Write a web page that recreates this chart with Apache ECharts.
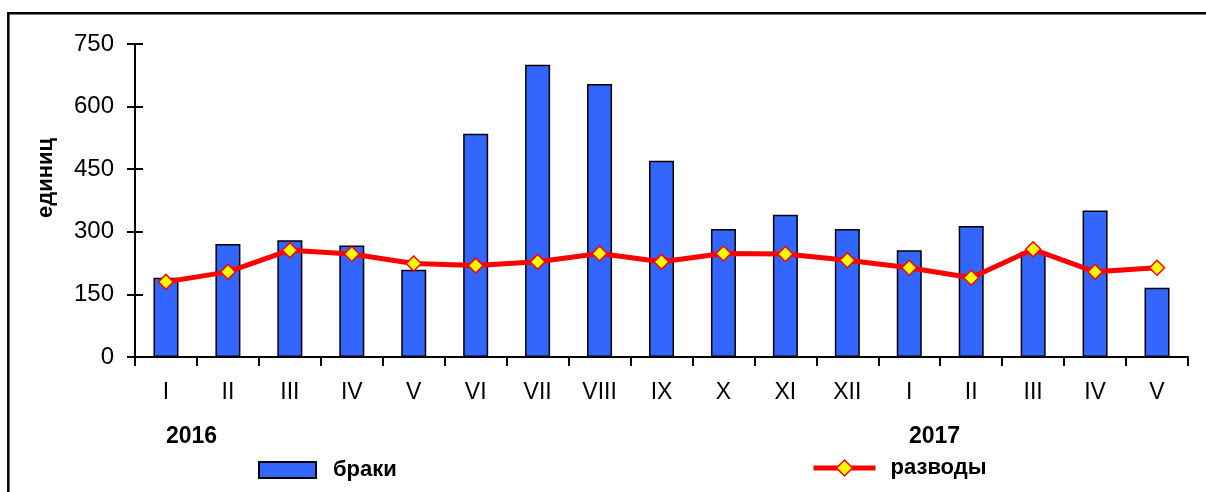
<!DOCTYPE html>
<html>
<head>
<meta charset="utf-8">
<script src="https://cdn.jsdelivr.net/npm/echarts@6/dist/echarts.min.js"></script>
<style>
html,body{margin:0;padding:0;background:#fff;}
#chart{width:1206px;height:492px;}
</style>
</head>
<body>
<div id="chart"></div>
<script>
const months = ['I','II','III','IV','V','VI','VII','VIII','IX','X','XI','XII','I','II','III','IV','V'];
const marriages = [190, 271, 280, 267, 209, 535, 700, 654, 470, 307, 341, 307, 256, 314, 252, 351, 166];
const divorces = [180, 204, 256, 247, 224, 219, 228, 248, 228, 248, 247, 232, 214, 190, 258, 204, 214];
const yTicks = [0, 150, 300, 450, 600, 750];
const yearLabels = ['2016', '2017'];
const seriesNames = ['браки', 'разводы'];
const axisTitle = 'единиц';

const chart = echarts.init(document.getElementById('chart'), null, {renderer: 'canvas'});
const FONT = 'Liberation Sans, Arial, sans-serif';
const yMin = yTicks[0], yMax = yTicks[yTicks.length - 1], yInt = yTicks[1] - yTicks[0];

const option = {
  backgroundColor: '#ffffff',
  animation: false,
  grid: {left: 135, right: 18, top: 44, bottom: 135, containLabel: false},
  legend: [
    {
      data: [{name: seriesNames[0], icon: 'rect'}], left: 258, top: 459, padding: 0, itemWidth: 57, itemHeight: 16,
      textStyle: {fontFamily: FONT, fontSize: 22, fontWeight: 'bold', color: '#000', padding: [0, 0, 0, 12]}
    },
    {
      data: [{name: seriesNames[1]}], left: 811, top: 457, padding: 0, itemWidth: 62, itemHeight: 20,
      lineStyle: {width: 5, color: '#FF0000'},
      itemStyle: {color: '#FFFF00', borderColor: '#FF0000', borderWidth: 1.5},
      textStyle: {fontFamily: FONT, fontSize: 22, fontWeight: 'bold', color: '#000', padding: [0, 0, 0, 10]}
    }
  ],
  xAxis: {
    type: 'category', data: months, boundaryGap: true,
    axisLine: {lineStyle: {color: '#000', width: 2}},
    axisTick: {show: true, inside: false, length: 9, lineStyle: {color: '#000', width: 2}},
    axisLabel: {color: '#000', fontFamily: FONT, fontSize: 23, margin: 24, interval: 0},
    splitLine: {show: false}
  },
  yAxis: [
    {
      type: 'value', min: yMin, max: yMax, interval: yInt,
      axisLine: {show: true, lineStyle: {color: '#000', width: 2}},
      axisTick: {show: true, inside: false, length: 8, lineStyle: {color: '#000', width: 2}},
      axisLabel: {color: '#000', fontFamily: FONT, fontSize: 24, margin: 21},
      splitLine: {show: false}
    },
    {
      type: 'value', min: yMin, max: yMax, interval: yInt, position: 'left', offset: 0,
      axisLine: {show: false},
      axisTick: {show: true, inside: true, length: 8, lineStyle: {color: '#000', width: 2}},
      axisLabel: {show: false},
      splitLine: {show: false}
    }
  ],
  series: [
    {
      name: seriesNames[0], type: 'bar', data: marriages, barWidth: 25, yAxisIndex: 0,
      itemStyle: {color: '#3366FF', borderColor: '#000', borderWidth: 1.5}
    },
    {
      name: seriesNames[1], type: 'line', data: divorces, yAxisIndex: 0,
      symbol: 'diamond', symbolSize: 15, showSymbol: true,
      lineStyle: {color: '#FF0000', width: 5},
      itemStyle: {color: '#FFFF00', borderColor: '#FF0000', borderWidth: 1.5},
      z: 5
    }
  ],
  graphic: [
    {type: 'rect', silent: true, shape: {x: 8.3, y: 13.3, width: 1220, height: 500},
      style: {fill: 'none', stroke: '#000', lineWidth: 2.5}},
    {type: 'text', x: 46, y: 178, rotation: Math.PI / 2,
      style: {text: axisTitle, fontFamily: FONT, fontSize: 22, fontWeight: 'bold', fill: '#000', align: 'center', verticalAlign: 'middle'}},
    {type: 'text', left: 166, top: 425, style: {text: yearLabels[0], fontFamily: FONT, fontSize: 23, fontWeight: 'bold', fill: '#000'}},
    {type: 'text', left: 909, top: 425, style: {text: yearLabels[1], fontFamily: FONT, fontSize: 23, fontWeight: 'bold', fill: '#000'}}
  ]
};
chart.setOption(option);
</script>
</body>
</html>
